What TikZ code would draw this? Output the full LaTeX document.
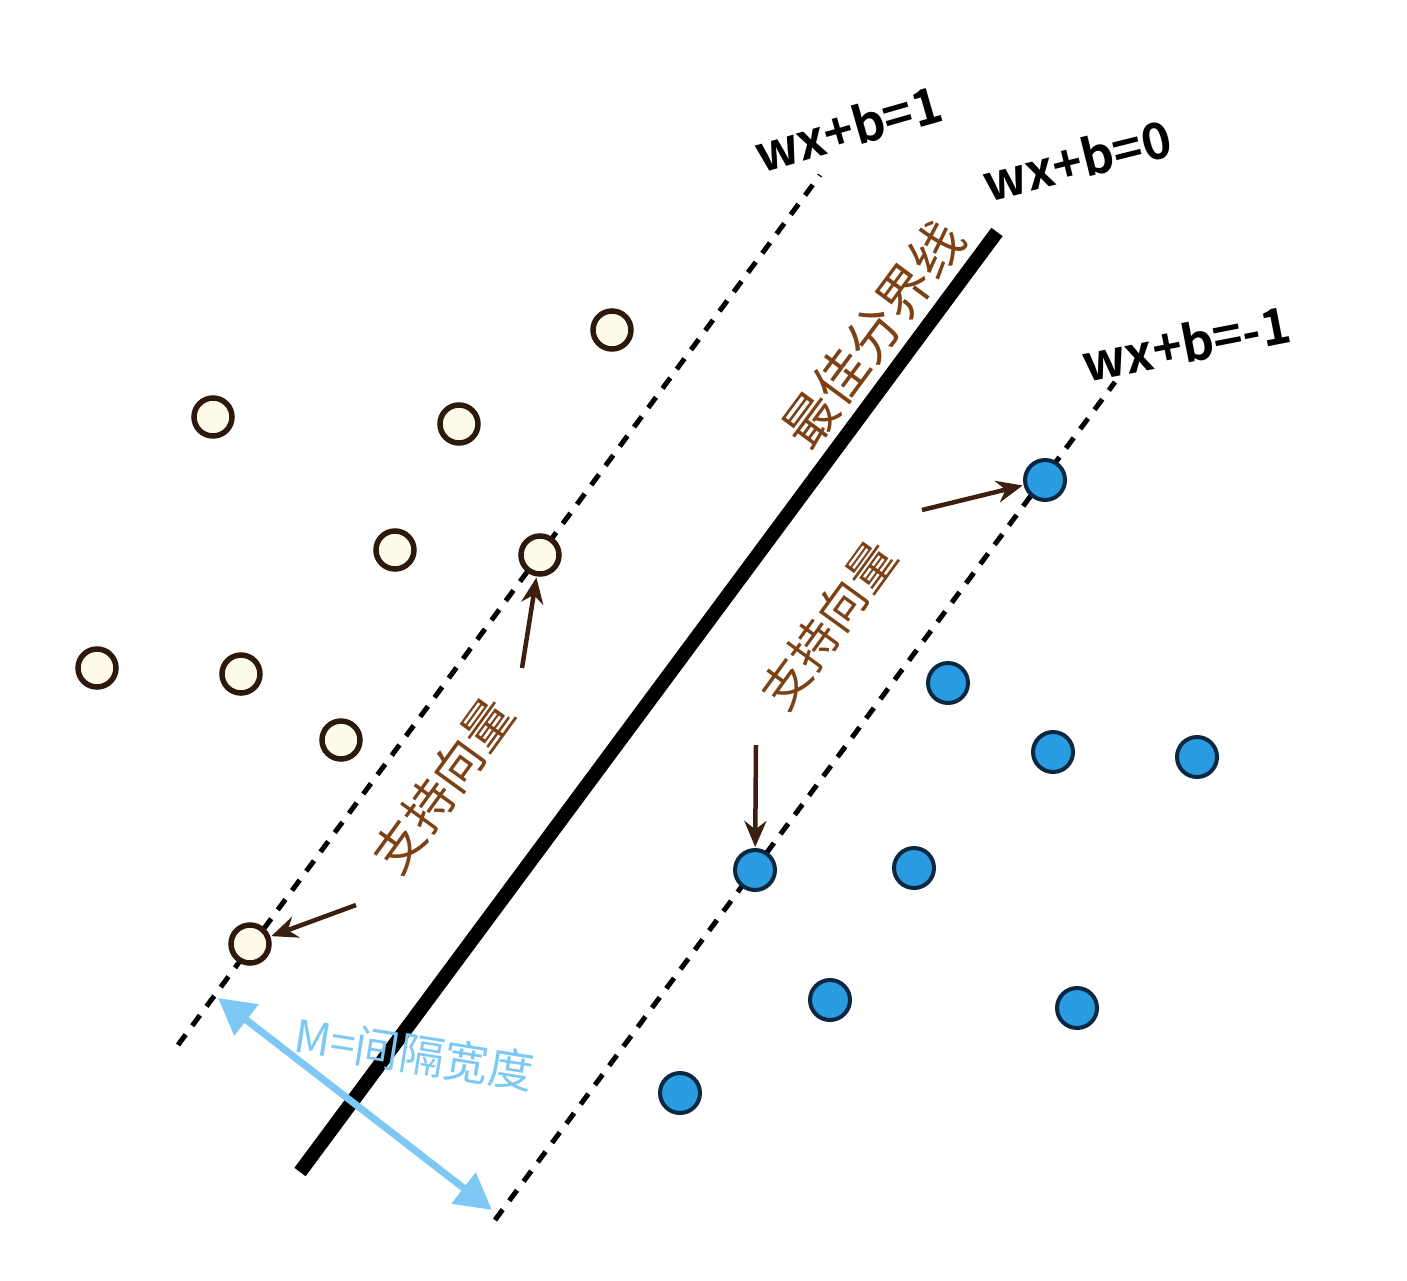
\documentclass[tikz,border=0pt]{standalone}
\usepackage{fontspec}
\setmainfont{Noto Sans}
\newfontfamily\cjk{Noto Sans CJK SC}
\newfontfamily\cjkbold{Noto Sans CJK SC Bold}
\usetikzlibrary{arrows.meta}
\definecolor{ringbrown}{RGB}{45,25,12}
\definecolor{cream}{RGB}{255,251,235}
\definecolor{dotblue}{RGB}{40,155,225}
\definecolor{dotedge}{RGB}{12,40,65}
\definecolor{labelbrown}{RGB}{125,65,22}
\definecolor{arrowbrown}{RGB}{60,32,15}
\definecolor{gapblue}{RGB}{125,200,245}
\tikzset{
  posdot/.style={circle,draw=ringbrown,line width=5.5pt,fill=cream,minimum size=38pt,inner sep=0pt},
  negdot/.style={circle,draw=dotedge,line width=4pt,fill=dotblue,minimum size=40pt,inner sep=0pt},
  margin/.style={draw=black,line width=5pt,dash pattern=on 13pt off 11pt},
  divider/.style={draw=black,line width=14pt},
  pointer/.style={draw=arrowbrown,line width=4.5pt,-{Stealth[length=26pt,width=22pt]},shorten >=1pt},
  eqlabel/.style={font=\fontsize{50}{54}\selectfont\cjkbold,text=black,inner sep=0pt},
  cnlabel/.style={text=labelbrown,inner sep=0pt},
  gaparrow/.style={draw=gapblue,line width=7pt,{Triangle[length=36pt,width=38pt]}-{Triangle[length=36pt,width=38pt]}}
}
\begin{document}
\begin{tikzpicture}[x=1pt,y=-1pt]
\useasboundingbox[fill=white] (0,0) rectangle (1407,1280);
% lines
\coordinate (ua) at (178,1045); \coordinate (ub) at (820,175);
\coordinate (ma) at (300,1172); \coordinate (mb) at (997,232);
\coordinate (la) at (495,1220); \coordinate (lb) at (1115,382);
\draw[margin] (ua) -- (ub);
\draw[divider] (ma) -- (mb);
\draw[margin] (la) -- (lb);
% equation labels
\node[eqlabel,rotate=16] (e1) at (848,128) {wx+b=1};
\node[eqlabel,rotate=14] (e0) at (1077,160) {wx+b=0};
\node[eqlabel,rotate=11] (em) at (1186,343) {wx+b=-1};
% positive points
\node[posdot] (p1) at (612,330) {};
\node[posdot] (p2) at (213,417) {};
\node[posdot] (p3) at (459,424) {};
\node[posdot] (p4) at (395,550) {};
\node[posdot] (p5) at (540,555) {};
\node[posdot] (p6) at (97,668) {};
\node[posdot] (p7) at (241,674) {};
\node[posdot] (p8) at (341,740) {};
\node[posdot] (p9) at (250,944) {};
% negative points
\node[negdot] (n1) at (1045,480) {};
\node[negdot] (n2) at (948,683) {};
\node[negdot] (n3) at (1053,752) {};
\node[negdot] (n4) at (1197,757) {};
\node[negdot] (n5) at (755,870) {};
\node[negdot] (n6) at (914,868) {};
\node[negdot] (n7) at (830,1000) {};
\node[negdot] (n8) at (1077,1008) {};
\node[negdot] (n9) at (680,1093) {};
% chinese labels
\node[cnlabel,rotate=53.5,font=\fontsize{53}{56}\selectfont\cjk] (best) at (873,334) {最佳分界线};
\node[cnlabel,rotate=54,font=\fontsize{50}{54}\selectfont\cjk] (svl) at (443,785) {支持向量};
\node[cnlabel,rotate=54,font=\fontsize{48}{52}\selectfont\cjk] (svr) at (828,625) {支持向量};
% pointers
\coordinate (s1) at (522,668);
\coordinate (s2) at (356,905);
\coordinate (s3) at (922,510);
\coordinate (s4) at (756,745);
\draw[pointer] (s1) -- (p5);
\draw[pointer] (s2) -- (p9);
\draw[pointer] (s3) -- (n1);
\draw[pointer] (s4) -- (n5);
% margin width
\coordinate (ga) at (218,998);
\coordinate (gb) at (492,1210);
\draw[gaparrow] (ga) -- (gb);
\node[rotate=-9,text=gapblue,font=\fontsize{45}{48}\selectfont\cjk,inner sep=0pt] (mw) at (414,1054) {M=间隔宽度};
\end{tikzpicture}
\end{document}
